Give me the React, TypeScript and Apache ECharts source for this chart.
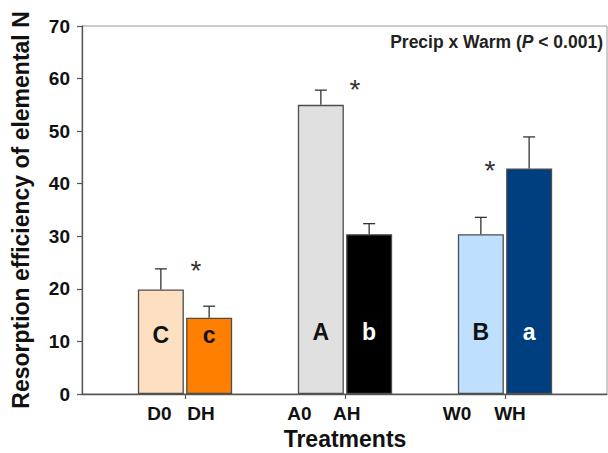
import React, { useEffect, useRef } from "react";
import * as echarts from "echarts";

// ---- data ----
const groups = ["D", "A", "W"];
const controlLabels = ["D0", "A0", "W0"];
const warmedLabels = ["DH", "AH", "WH"];
const controlMeans = [19.9, 55.0, 30.4];
const controlSE = [3.9, 2.8, 3.2];
const warmedMeans = [14.5, 30.4, 42.9];
const warmedSE = [2.2, 2.0, 6.0];
const controlLetters = ["C", "A", "B"];
const warmedLetters = ["c", "b", "a"];
const starValues = [24.6, 59.1, 43.6];
const yMin = 0;
const yMax = 70;
const yInterval = 10;

// ---- styles ----
const controlColors = ["#FDDFC1", "#E0E0E0", "#BFDFFF"];
const warmedColors = ["#FF7F00", "#000000", "#003F7F"];
const warmedLetterColors = ["#111111", "#FFFFFF", "#FFFFFF"];
const letterLift = [48, 51, 51];
const starDx = [11, 10, -15];
const labelSpacer = [11.5, 17.2, 23];
const labelEnd = [9.5, 43.8, 43];
const FONT = '"Liberation Sans", Arial, Helvetica, sans-serif';
const BAR_W = 46;
const HALF = (BAR_W * 1.05) / 2;

export default function App() {
  const ref = useRef<HTMLDivElement>(null);

  useEffect(() => {
    if (!ref.current) return;
    const chart = echarts.init(ref.current, undefined, { renderer: "svg" });

    const errRender = (dx: number) => (params: any, api: any) => {
      const i = api.value(0);
      const top = api.coord([i, api.value(2)]);
      const base = api.coord([i, api.value(1)]);
      const x = base[0] + dx;
      const cap = 6;
      const style = { stroke: "#333", lineWidth: 1.3 };
      return {
        type: "group",
        children: [
          { type: "line", shape: { x1: x, y1: base[1], x2: x, y2: top[1] }, style },
          { type: "line", shape: { x1: x - cap, y1: top[1], x2: x + cap, y2: top[1] }, style },
        ],
      };
    };

    const lab = { fontFamily: FONT, fontWeight: "bold", fontSize: 19, color: "#111" };
    const rich: any = {
      a: { ...lab, width: 30, align: "center" },
      b: { ...lab, width: 30, align: "center" },
    };
    groups.forEach((_, i) => {
      rich["s" + i] = { width: labelSpacer[i], fontSize: 19 };
      rich["e" + i] = { width: labelEnd[i], fontSize: 19 };
    });

    chart.setOption({
      animation: false,
      textStyle: { fontFamily: FONT },
      grid: [
        {
          left: 82, top: 26, width: 525, height: 368,
          show: true, borderColor: "#9a9a9a", borderWidth: 1,
          containLabel: false, outerBoundsMode: "none",
        },
        {
          left: 105, top: 26, width: 480, height: 368,
          containLabel: false, outerBoundsMode: "none",
        },
      ],
      xAxis: [
        {
          gridIndex: 0,
          type: "value",
          min: 0,
          max: 1,
          axisLine: { show: true, lineStyle: { color: "#555", width: 1.3 } },
          axisTick: { show: false },
          axisLabel: { show: false },
          splitLine: { show: false },
        },
        {
          gridIndex: 1,
          type: "category",
          data: groups,
          axisLine: { show: false },
          axisTick: { show: true, alignWithLabel: true, length: 5, lineStyle: { color: "#555", width: 1.2 } },
          axisLabel: {
            margin: 10,
            interval: 0,
            formatter: (_v: string, idx: number) =>
              `{a|${controlLabels[idx]}}{s${idx}| }{b|${warmedLabels[idx]}}{e${idx}| }`,
            rich,
          },
          name: "Treatments",
          nameLocation: "middle",
          nameGap: 29,
          nameTextStyle: { fontFamily: FONT, fontWeight: "bold", fontSize: 23, color: "#111" },
        },
      ],
      yAxis: [
        {
          gridIndex: 0,
          type: "value",
          min: yMin,
          max: yMax,
          interval: yInterval,
          axisLine: { show: true, lineStyle: { color: "#555", width: 1.3 } },
          axisTick: { show: true, length: 5, lineStyle: { color: "#555", width: 1.2 } },
          axisLabel: { margin: 12, fontFamily: FONT, fontWeight: "bold", fontSize: 19, color: "#111" },
          splitLine: { show: false },
          name: "Resorption efficiency of elemental N",
          nameLocation: "middle",
          nameGap: 50,
          nameTextStyle: { fontFamily: FONT, fontWeight: "bold", fontSize: 23, color: "#111" },
        },
        { gridIndex: 1, type: "value", min: yMin, max: yMax, interval: yInterval, show: false },
      ],
      series: [
        {
          type: "bar",
          xAxisIndex: 1,
          yAxisIndex: 1,
          barWidth: BAR_W,
          barGap: "5%",
          data: controlMeans.map((v, i) => ({
            value: v,
            itemStyle: { color: controlColors[i], borderColor: "#4d4d4d", borderWidth: 1.3 },
            label: { distance: letterLift[i] },
          })),
          label: {
            show: true,
            position: "insideBottom",
            formatter: (p: any) => controlLetters[p.dataIndex],
            fontFamily: FONT,
            fontWeight: "bold",
            fontSize: 23,
            color: "#111",
          },
        },
        {
          type: "bar",
          xAxisIndex: 1,
          yAxisIndex: 1,
          barWidth: BAR_W,
          barGap: "5%",
          data: warmedMeans.map((v, i) => ({
            value: v,
            itemStyle: { color: warmedColors[i], borderColor: "#4d4d4d", borderWidth: 1.3 },
            label: { distance: letterLift[i], color: warmedLetterColors[i] },
          })),
          label: {
            show: true,
            position: "insideBottom",
            formatter: (p: any) => warmedLetters[p.dataIndex],
            fontFamily: FONT,
            fontWeight: "bold",
            fontSize: 23,
          },
        },
        {
          type: "custom",
          xAxisIndex: 1,
          yAxisIndex: 1,
          z: 5,
          renderItem: errRender(-HALF),
          data: controlMeans.map((v, i) => [i, v, v + controlSE[i]]),
        },
        {
          type: "custom",
          xAxisIndex: 1,
          yAxisIndex: 1,
          z: 5,
          renderItem: errRender(HALF),
          data: warmedMeans.map((v, i) => [i, v, v + warmedSE[i]]),
        },
        {
          type: "custom",
          xAxisIndex: 1,
          yAxisIndex: 1,
          z: 6,
          renderItem: (params: any, api: any) => {
            const i = api.value(0);
            const p = api.coord([i, api.value(1)]);
            return {
              type: "text",
              x: p[0] + starDx[params.dataIndex],
              y: p[1] + 6,
              style: {
                text: "*",
                fontFamily: FONT,
                fontSize: 28,
                fill: "#333",
                align: "center",
                verticalAlign: "middle",
              },
            };
          },
          data: starValues.map((v, i) => [i, v]),
        },
      ],
      graphic: [
        {
          type: "text",
          right: 5,
          top: 33,
          style: {
            text: "{n|Precip x Warm (}{i|P}{n| < 0.001)}",
            rich: {
              n: { fontFamily: FONT, fontWeight: "bold", fontSize: 17.5, fill: "#222" },
              i: { fontFamily: FONT, fontWeight: "bold", fontStyle: "italic", fontSize: 17.5, fill: "#222" },
            },
          },
        },
      ],
    });

    return () => chart.dispose();
  }, []);

  return (
    <div
      ref={ref}
      style={{ position: "fixed", left: 0, top: 0, width: 608, height: 453, background: "#fff" }}
    />
  );
}
